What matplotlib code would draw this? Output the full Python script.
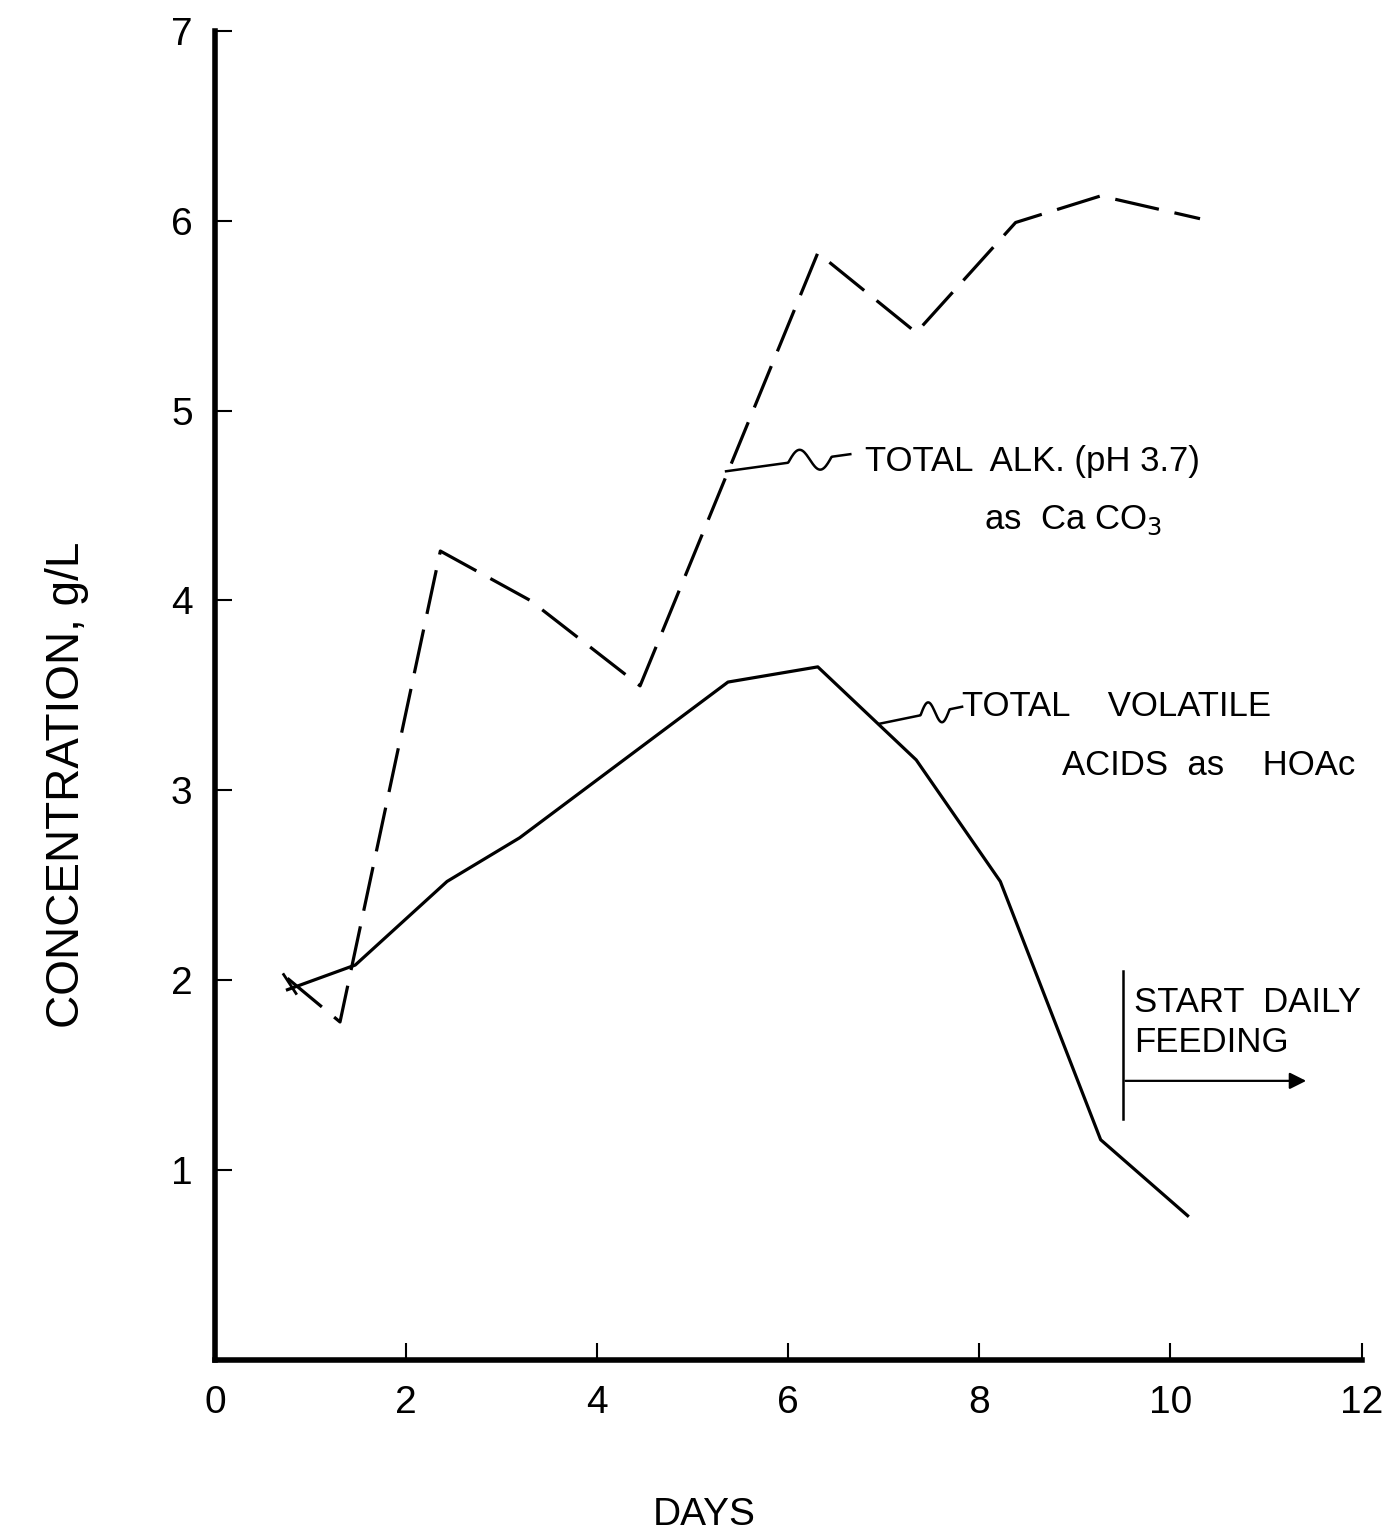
import matplotlib
matplotlib.use("Agg")
import matplotlib.pyplot as plt
import numpy as np

plt.rcParams['font.family'] = ['Liberation Sans', 'DejaVu Sans']

# Data
alk_days = [0.76, 1.31, 2.36, 3.30, 4.45, 6.31, 7.34, 8.38, 9.27, 10.31]
alk_conc = [2.01, 1.78, 4.26, 4.00, 3.55, 5.83, 5.41, 5.99, 6.13, 6.01]

tva_days = [0.76, 1.47, 2.43, 3.19, 5.37, 6.31, 7.34, 8.22, 9.27, 10.18]
tva_conc = [1.95, 2.08, 2.52, 2.75, 3.57, 3.65, 3.16, 2.52, 1.16, 0.76]

x_ticks = [0, 2, 4, 6, 8, 10, 12]
y_ticks = [1, 2, 3, 4, 5, 6, 7]
feeding_day = 9.5

fig = plt.figure(figsize=(13.95, 15.35), dpi=100)
ax = fig.add_axes([0.154, 0.114, 0.822, 0.866])

ax.plot(alk_days, alk_conc, color='black', lw=2.3, dashes=(14, 5))
ax.plot(tva_days, tva_conc, color='black', lw=2.3)
# small cross mark at the start
ax.plot([0.72, 0.85], [2.03, 1.93], color='black', lw=2.0)

ax.set_xlim(0, 12)
ax.set_ylim(0, 7)
ax.spines['top'].set_visible(False)
ax.spines['right'].set_visible(False)
ax.spines['left'].set_linewidth(4)
ax.spines['bottom'].set_linewidth(4)
ax.set_xticks(x_ticks)
ax.set_yticks(y_ticks)
ax.set_xticklabels([str(v) for v in x_ticks])
ax.set_yticklabels(['1', '2', '3', '4', '5', '6', '7'])
ax.tick_params(axis='both', direction='in', length=12, width=1.5, labelsize=28)
ax.tick_params(axis='x', pad=18)
ax.tick_params(axis='y', pad=16)

fig.text(0.505, 0.013, 'DAYS', fontsize=28, ha='center', va='center')
fig.text(0.048, 0.489, 'CONCENTRATION, g/L', fontsize=33, ha='center', va='center',
         rotation=90)

# annotations
txt_kw = dict(fontsize=25, color='black')
ax.text(6.80, 4.73, 'TOTAL  ALK. (pH 3.7)', va='center', ha='left', **txt_kw)
ax.text(8.05, 4.42, 'as  Ca CO$_3$', va='center', ha='left', **txt_kw)
ax.text(7.82, 3.44, 'TOTAL    VOLATILE', va='center', ha='left', **txt_kw)
ax.text(8.87, 3.13, 'ACIDS  as    HOAc', va='center', ha='left', **txt_kw)
ax.text(9.62, 1.88, 'START  DAILY', va='center', ha='left', **txt_kw)
ax.text(9.62, 1.67, 'FEEDING', va='center', ha='left', **txt_kw)

# leader lines with squiggle
def leader(x0, y0, x1, y1):
    t = np.linspace(0, 1, 200)
    xs = x0 + (x1 - x0) * t
    ys = y0 + (y1 - y0) * t
    w = np.where((t > 0.5) & (t < 0.85), 0.06 * np.sin((t - 0.5) / 0.35 * 2 * np.pi), 0)
    ax.plot(xs, ys + w, color='black', lw=1.8)

leader(5.35, 4.68, 6.65, 4.77)
leader(6.95, 3.35, 7.82, 3.44)

# start daily feeding marker
ax.plot([feeding_day, feeding_day], [1.27, 2.05], color='black', lw=1.8)
ax.annotate('', xy=(11.45, 1.47), xytext=(feeding_day, 1.47),
            arrowprops=dict(arrowstyle='-|>', color='black', lw=1.6, mutation_scale=25))

fig.savefig('out.png', dpi=100)
